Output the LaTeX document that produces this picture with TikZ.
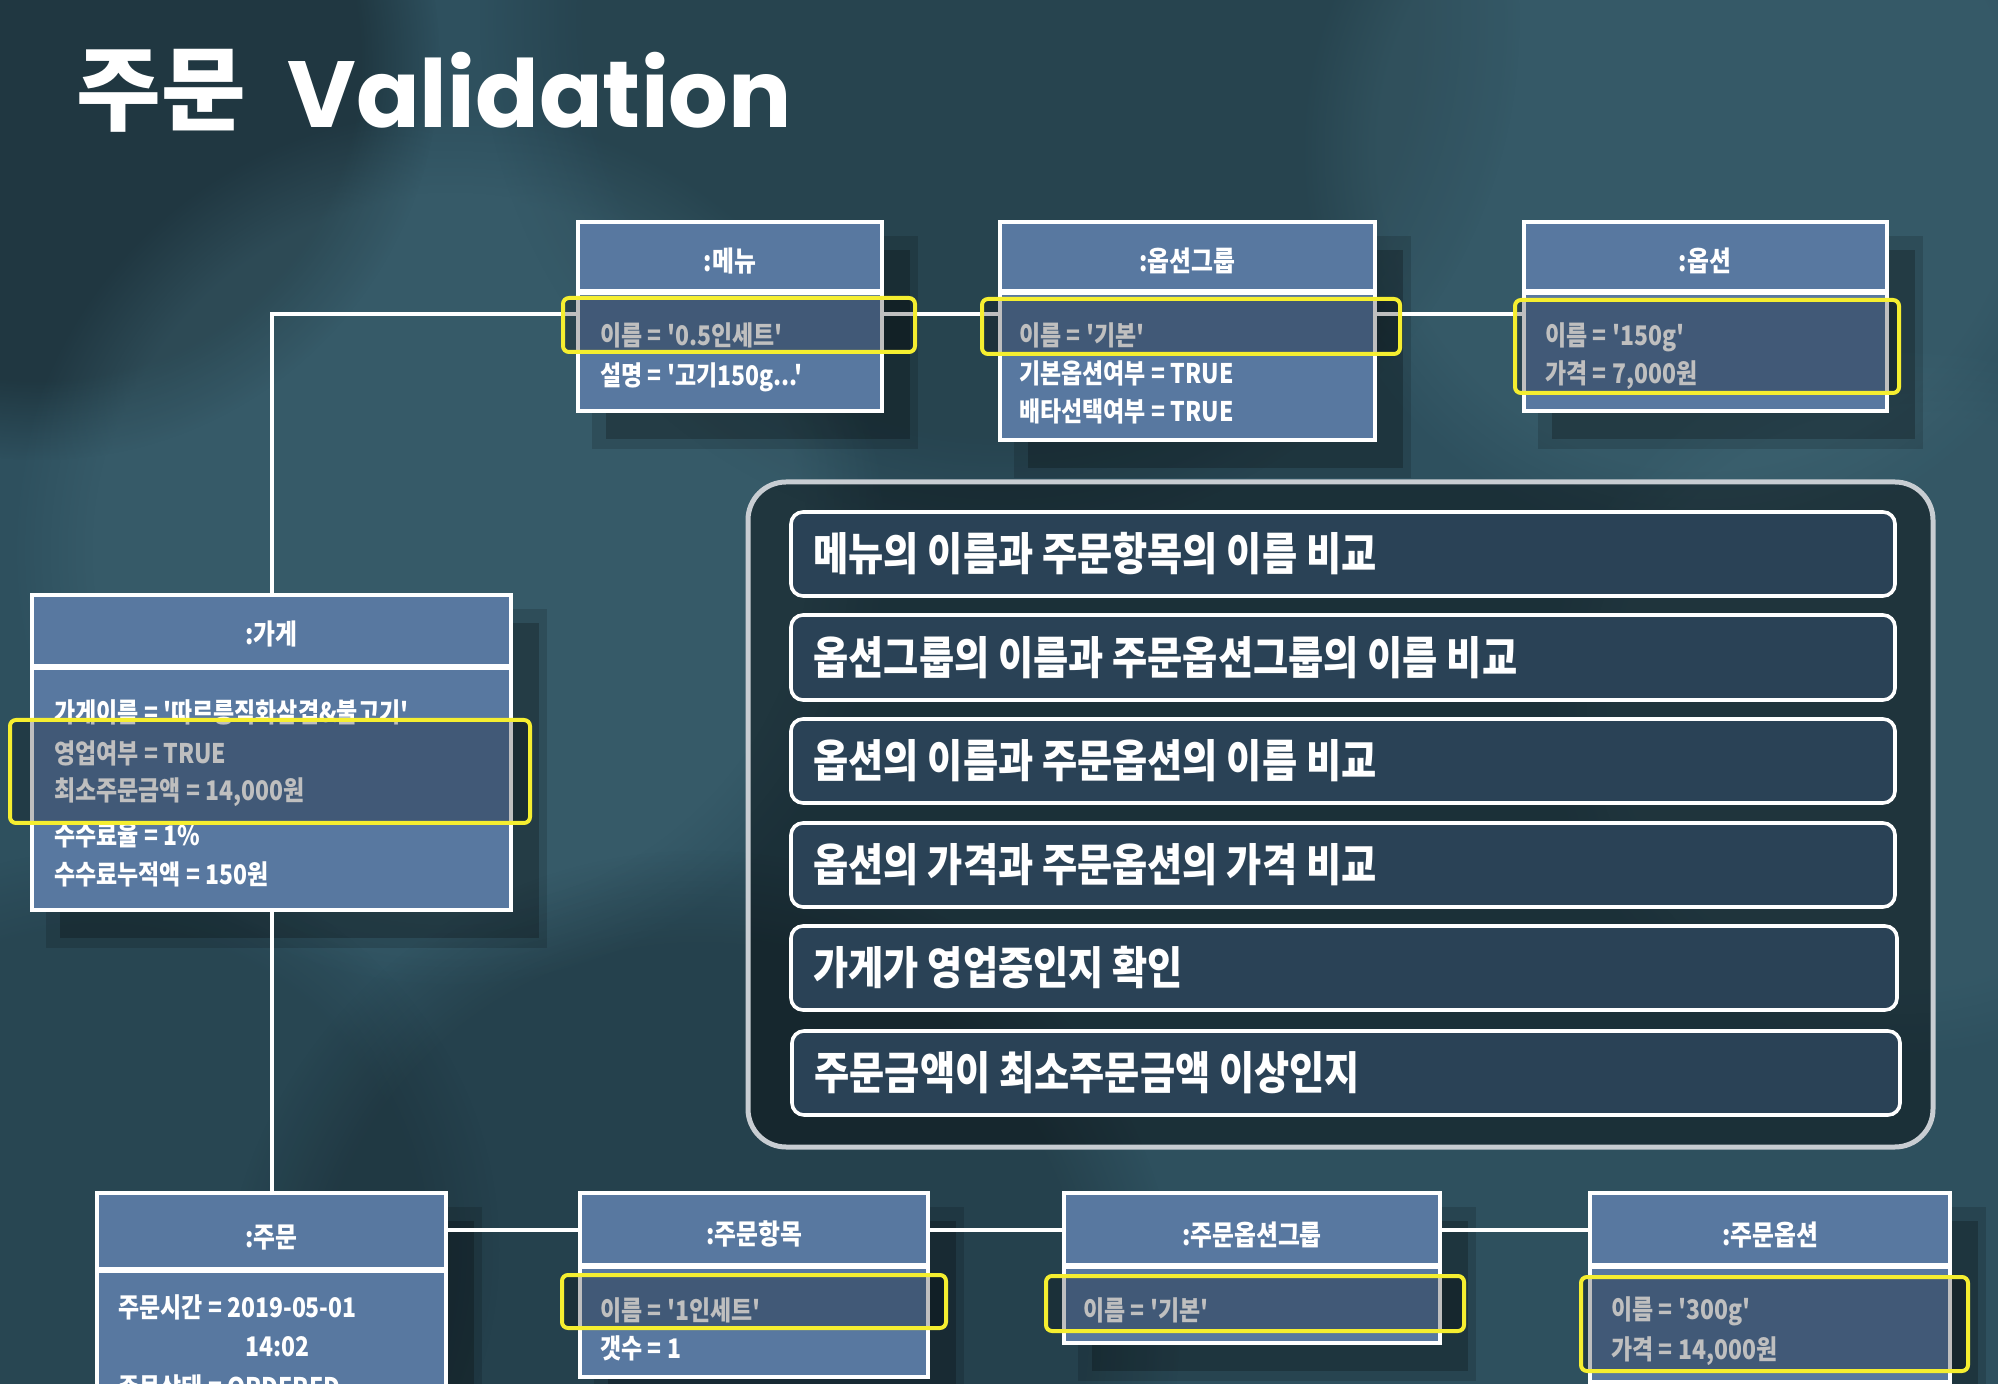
\documentclass[tikz,border=0pt]{standalone}
\usepackage{fontspec}
\setmainfont{Noto Sans CJK KR}
\newfontfamily\krf{Noto Sans CJK KR}[FakeStretch=0.85]
\newfontfamily\krtitle{Noto Sans CJK KR}
\newfontfamily\popf{Poppins}
\usetikzlibrary{fit,fadings}
\definecolor{bgc}{RGB}{46,80,94}
\definecolor{bglight}{RGB}{70,110,124}
\definecolor{boxc}{RGB}{88,120,160}
\definecolor{rulec}{RGB}{42,66,86}
\definecolor{panelb}{RGB}{200,205,210}
\definecolor{ylw}{RGB}{245,238,48}
\tikzset{
  cbox/.style={draw=white, line width=1.8pt, fill=boxc, inner sep=0pt},
  attr/.style={anchor=west, text=white, inner sep=0pt, font=\krf\bfseries\fontsize{13.5}{15}\selectfont},
  hdr/.style={text=white, inner sep=0pt, font=\krf\bfseries\fontsize{14}{16}\selectfont},
  conn/.style={draw=white, line width=2pt},
  panelbox/.style={draw=panelb, line width=2.5pt, fill=black, fill opacity=0.4, rounded corners=19pt, inner sep=0pt},
  rulebox/.style={draw=white, line width=1.8pt, fill=rulec, rounded corners=6pt, inner sep=0pt},
  ruletxt/.style={anchor=west, text=white, inner sep=0pt, font=\krf\bfseries\fontsize{22.5}{25}\selectfont},
  hlbox/.style={draw=ylw, line width=2pt, rounded corners=3pt, fill=black, fill opacity=0.25},
  fuzzy/.style={path fading=circle with fuzzy edge 20 percent}
}
\newcommand\classbox[6]{%
  \fill[black,opacity=0.22] (#2+28,#3+28) rectangle (#4+28,#5+28);
  \fill[black,opacity=0.14] (#2+14,#3+14) rectangle (#4+36,#5+38);
  \node[cbox, fit={(#2,#3) (#4,#5)}] (#1) {};
  \draw[white, line width=3pt] (#2,#6) -- (#4,#6);
}
\begin{document}
\begin{tikzpicture}[x=0.5pt,y=-0.5pt]
\useasboundingbox (0,0) rectangle (1998,1384);
% background
\fill[bgc] (0,0) rectangle (1998,1384);
\fill[black,opacity=0.3,fuzzy] (40,60) circle [radius=200pt];
\fill[black,opacity=0.15,fuzzy] (1000,20) circle [radius=260pt];
\fill[bglight,opacity=0.35,fuzzy] (450,550) circle [radius=220pt];
\fill[bglight,opacity=0.3,fuzzy] (1700,150) circle [radius=200pt];
\fill[bglight,opacity=0.25,fuzzy] (1900,700) circle [radius=180pt];
\fill[black,opacity=0.18,fuzzy] (700,1330) circle [radius=240pt];
\fill[black,opacity=0.12,fuzzy] (100,1250) circle [radius=200pt];

% title
\node[anchor=base west, inner sep=0pt, text=white, font=\krtitle\bfseries\fontsize{46}{50}\selectfont] (t1) at (76,124) {주문};
\node[anchor=base west, inner sep=0pt, text=white, font=\popf\bfseries\fontsize{47}{53}\selectfont] (t2) at (287,128) {Validation};

% class boxes
\classbox{menu}{578}{222}{882}{411}{292}
\classbox{optg}{1000}{222}{1375}{440}{292}
\classbox{opt}{1524}{222}{1887}{411}{292}
\classbox{store}{32}{595}{511}{910}{667}
\classbox{order}{97}{1193}{446}{1430}{1270}
\classbox{oitem}{580}{1193}{928}{1377}{1266}
\classbox{oog}{1064}{1193}{1440}{1343}{1266}
\classbox{oopt}{1590}{1193}{1950}{1382}{1266}

% connectors
\coordinate (tl) at (0,314);
\coordinate (bl) at (0,1230);
\draw[conn] (store.north) |- (menu.west |- tl);
\draw[conn] (menu.east |- tl) -- (optg.west |- tl);
\draw[conn] (optg.east |- tl) -- (opt.west |- tl);
\draw[conn] (store.south) -- (order.north);
\draw[conn] (order.east |- bl) -- (oitem.west |- bl);
\draw[conn] (oitem.east |- bl) -- (oog.west |- bl);
\draw[conn] (oog.east |- bl) -- (oopt.west |- bl);

% headers
\node[hdr] (menu-h) at (730,261) {:메뉴};
\node[hdr] (optg-h) at (1187,261) {:옵션그룹};
\node[hdr] (opt-h) at (1705,261) {:옵션};
\node[hdr] (store-h) at (271.5,634) {:가게};
\node[hdr] (order-h) at (271.5,1238) {:주문};
\node[hdr] (oitem-h) at (754,1234) {:주문항목};
\node[hdr] (oog-h) at (1252,1235) {:주문옵션그룹};
\node[hdr] (oopt-h) at (1770,1235) {:주문옵션};

% attributes
\node[attr] (a1) at (600,335) {이름 = '0.5인세트'};
\node[attr] (a2) at (600,377) {설명 = '고기150g...'};
\node[attr] (a3) at (1019,335) {이름 = '기본'};
\node[attr] (a4) at (1019,373) {기본옵션여부 = TRUE};
\node[attr] (a5) at (1019,411) {배타선택여부 = TRUE};
\node[attr] (a6) at (1545,337) {이름 = '150g'};
\node[attr] (a7) at (1545,375) {가격 = 7,000원};
\node[attr] (a8) at (54,712) {가게이름 = '따르릉직화삼겹\&불고기'};
\node[attr] (a9) at (54,753) {영업여부 = TRUE};
\node[attr] (a10) at (54,792) {최소주문금액 = 14,000원};
\node[attr] (a11) at (54,835) {수수료율 = 1\%};
\node[attr] (a12) at (54,874) {수수료누적액 = 150원};
\node[attr] (a13) at (118,1307) {주문시간 = 2019-05-01};
\node[attr] (a14) at (245,1347) {14:02};
\node[attr] (a15) at (118,1387) {주문상태 = ORDERED};
\node[attr] (a16) at (600,1310) {이름 = '1인세트'};
\node[attr] (a17) at (600,1348) {갯수 = 1};
\node[attr] (a18) at (1083,1310) {이름 = '기본'};
\node[attr] (a19) at (1611,1311) {이름 = '300g'};
\node[attr] (a20) at (1611,1351) {가격 = 14,000원};

% highlights
\draw[hlbox] (563,298) rectangle (915,352);
\draw[hlbox] (982,299) rectangle (1400,354);
\draw[hlbox] (1515,300) rectangle (1899,393);
\draw[hlbox] (10,720) rectangle (530,823);
\draw[hlbox] (562,1275) rectangle (946,1328);
\draw[hlbox] (1046,1276) rectangle (1464,1331);
\draw[hlbox] (1581,1277) rectangle (1968,1371);

% rules panel
\node[panelbox, fit={(748,482) (1933,1147)}] (panel) {};
\node[rulebox, fit={(791,512) (1895,596)}] (r1) {};
\node[rulebox, fit={(791,615) (1895,700)}] (r2) {};
\node[rulebox, fit={(791,719) (1895,803)}] (r3) {};
\node[rulebox, fit={(791,823) (1895,907)}] (r4) {};
\node[rulebox, fit={(791,926) (1897,1010)}] (r5) {};
\node[rulebox, fit={(792,1031) (1900,1115)}] (r6) {};
\node[ruletxt] (l1) at ([xshift=12pt]r1.west) {메뉴의 이름과 주문항목의 이름 비교};
\node[ruletxt] (l2) at ([xshift=12pt]r2.west) {옵션그룹의 이름과 주문옵션그룹의 이름 비교};
\node[ruletxt] (l3) at ([xshift=12pt]r3.west) {옵션의 이름과 주문옵션의 이름 비교};
\node[ruletxt] (l4) at ([xshift=12pt]r4.west) {옵션의 가격과 주문옵션의 가격 비교};
\node[ruletxt] (l5) at ([xshift=12pt]r5.west) {가게가 영업중인지 확인};
\node[ruletxt] (l6) at ([xshift=12pt]r6.west) {주문금액이 최소주문금액 이상인지};
\end{tikzpicture}
\end{document}
